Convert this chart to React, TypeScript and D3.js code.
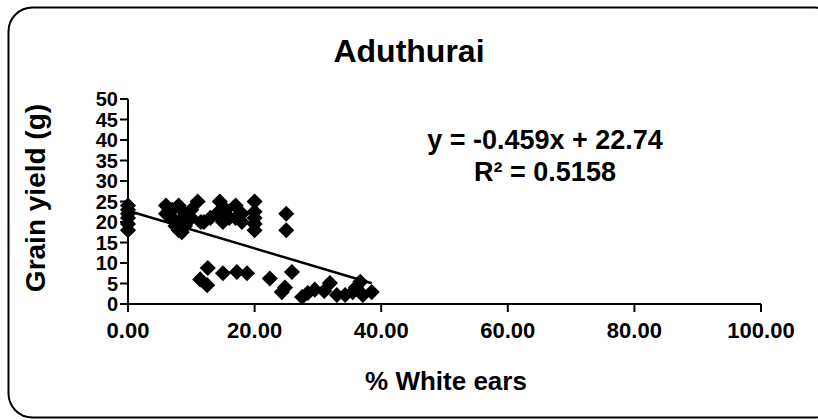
import React from "react";
import * as d3 from "d3";

// Sample observations: % white ears vs grain yield (g)
const whiteEars: number[] = [
  0, 0, 0, 0, 0, 0,
  6, 6, 7, 7, 7.5, 8, 8, 8, 8.5, 9, 9, 10, 10, 11, 11.5,
  12, 13, 14, 14.5, 15, 15.5, 16, 17, 17, 18, 18,
  20, 20, 20, 20, 20,
  25, 25,
  11.4, 12.6, 12.5, 15, 17.2, 18.8, 22.4,
  24.3, 25.9, 24.8, 28.4, 27.5, 29.5, 31.9, 31, 33, 34.3, 35.5, 36.7, 37.1, 38.5, 36,
];
const grainYield: number[] = [
  18, 19.5, 21, 22, 23, 24,
  24, 22, 21, 23, 19, 20, 18, 24, 17.5, 19, 22, 21, 23, 25, 20,
  20, 21, 22, 25, 20, 23, 21, 21, 24, 22, 20,
  25, 22.5, 21, 19.5, 18,
  22, 18,
  6, 8.8, 4.6, 7.5, 7.8, 7.5, 6.2,
  2.9, 7.8, 4, 2.7, 1.7, 3.5, 5.1, 3.2, 2.2, 2.2, 2.9, 5.4, 2.2, 2.9, 4,
];

const slope = -0.459;
const intercept = 22.74;
const rSquared = "0.5158";

const xTicks = [0, 20, 40, 60, 80, 100];
const yTicks = [0, 5, 10, 15, 20, 25, 30, 35, 40, 45, 50];

const W = 818;
const H = 420;
const font = "'Liberation Sans', Arial, sans-serif";

export default function App() {
  const x = d3.scaleLinear().domain([0, 100]).range([128, 761]);
  const y = d3.scaleLinear().domain([0, 50]).range([304, 99]);
  const xMax = d3.max(whiteEars) as number;
  const trend = d3.line<number>()
    .x((v) => x(v))
    .y((v) => y(slope * v + intercept));
  const diamond = d3.symbol().type(d3.symbolDiamond2).size(165)();

  return (
    <svg width={W} height={H} style={{ position: "absolute", left: 0, top: 0 }}>
      <rect x={0} y={0} width={W} height={H} fill="#fff" />
      <rect x={8.5} y={7.5} width={830} height={410} rx={24} ry={24} fill="#fff" stroke="#000" strokeWidth={2} />
      <text x={409} y={62} textAnchor="middle" fontFamily={font} fontSize={32} fontWeight="bold">
        Aduthurai
      </text>

      {/* y axis */}
      <line x1={x(0)} x2={x(0)} y1={y(50)} y2={y(0)} stroke="#000" strokeWidth={2} />
      {yTicks.map((t) => (
        <g key={"y" + t}>
          <line x1={x(0) - 8} x2={x(0)} y1={y(t)} y2={y(t)} stroke="#000" strokeWidth={2} />
          <text x={118} y={y(t) + 7} textAnchor="end" fontFamily={font} fontSize={20} fontWeight="bold">
            {t}
          </text>
        </g>
      ))}

      {/* x axis */}
      <line x1={x(0) - 8} x2={x(100)} y1={y(0)} y2={y(0)} stroke="#000" strokeWidth={2} />
      {xTicks.map((t) => (
        <g key={"x" + t}>
          <line x1={x(t)} x2={x(t)} y1={y(0)} y2={y(0) + 8} stroke="#000" strokeWidth={2} />
          <text x={x(t)} y={338} textAnchor="middle" fontFamily={font} fontSize={22} fontWeight="bold">
            {t.toFixed(2)}
          </text>
        </g>
      ))}

      <text x={446} y={390} textAnchor="middle" fontFamily={font} fontSize={26} fontWeight="bold">
        % White ears
      </text>
      <text
        transform={`translate(45,198) rotate(-90)`}
        textAnchor="middle"
        fontFamily={font}
        fontSize={28}
        fontWeight="bold"
      >
        Grain yield (g)
      </text>

      {whiteEars.map((v, i) => (
        <path key={i} d={diamond!} transform={`translate(${x(v)},${y(grainYield[i])})`} fill="#000" />
      ))}

      <path d={trend([0, xMax]) ?? ""} fill="none" stroke="#000" strokeWidth={2.5} />

      <text x={545} y={149} textAnchor="middle" fontFamily={font} fontSize={27} fontWeight="bold">
        y = -0.459x + 22.74
      </text>
      <text x={545} y={181} textAnchor="middle" fontFamily={font} fontSize={27} fontWeight="bold">
        R² = {rSquared}
      </text>
    </svg>
  );
}
